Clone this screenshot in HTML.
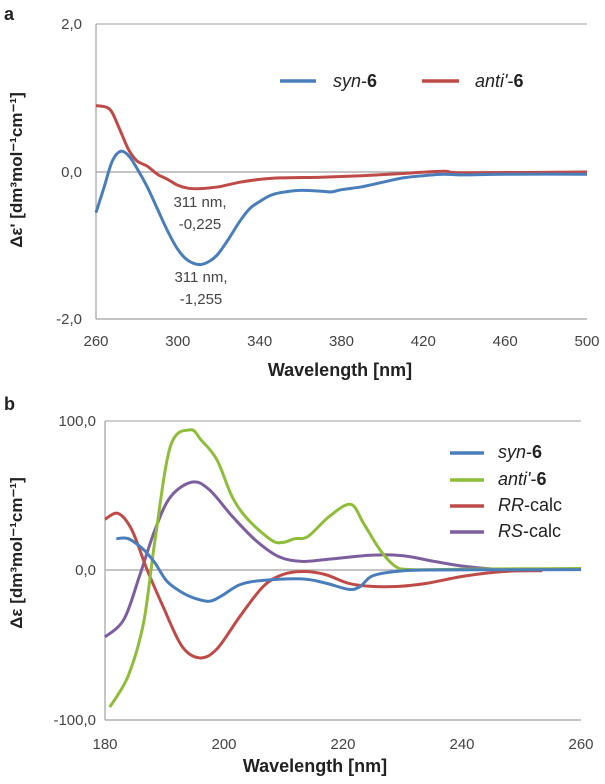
<!DOCTYPE html>
<html><head><meta charset="utf-8"><style>
html,body{margin:0;padding:0;background:#fff}
svg{display:block}
text{font-family:"Liberation Sans",Arial,sans-serif;fill:#222}
.t{fill:#444}
</style></head><body>
<svg id="s" width="605" height="784" viewBox="0 0 605 784" xmlns="http://www.w3.org/2000/svg">
<!-- Panel a -->
<text x="4" y="20" font-size="18" font-weight="bold">a</text>
<line x1="96" y1="24" x2="587" y2="24" stroke="#b0b0b0" stroke-width="1.2"/>
<line x1="96" y1="172" x2="587" y2="172" stroke="#a0a0a0" stroke-width="1.2"/>
<line x1="96" y1="24" x2="96" y2="319" stroke="#a0a0a0" stroke-width="1.2"/>
<line x1="96" y1="319" x2="587" y2="319" stroke="#a0a0a0" stroke-width="1.2"/>
<g font-size="15" text-anchor="end" class="t">
<text class="t" x="82" y="29">2,0</text><text class="t" x="82" y="177">0,0</text><text class="t" x="82" y="324">-2,0</text>
</g>
<g font-size="15" text-anchor="middle">
<text class="t" x="96" y="346">260</text><text class="t" x="177.8" y="346">300</text><text class="t" x="259.7" y="346">340</text><text class="t" x="341.5" y="346">380</text><text class="t" x="423.3" y="346">420</text><text class="t" x="505.2" y="346">460</text><text class="t" x="587" y="346">500</text>
</g>
<text x="340" y="376" font-size="18" font-weight="bold" text-anchor="middle">Wavelength [nm]</text>
<text transform="translate(22,170) rotate(-90)" font-size="17" font-weight="bold" text-anchor="middle">Δε' [dm³mol⁻¹cm⁻¹]</text>
<line x1="280" y1="81" x2="316" y2="81" stroke="#4a7ebb" stroke-width="3.5"/>
<text x="333" y="87" font-size="18"><tspan font-style="italic">syn</tspan>-<tspan font-weight="bold">6</tspan></text>
<line x1="422" y1="81" x2="459" y2="81" stroke="#be4b48" stroke-width="3.5"/>
<text x="475" y="87" font-size="18"><tspan font-style="italic">anti'</tspan>-<tspan font-weight="bold">6</tspan></text>
<g font-size="15" text-anchor="middle">
<text class="t" x="200" y="207">311 nm,</text><text class="t" x="200" y="229">-0,225</text>
<text class="t" x="201" y="282">311 nm,</text><text class="t" x="201" y="304">-1,255</text>
</g>
<path id="a1" fill="none" stroke="#be4b48" stroke-width="3"/>
<path id="a2" fill="none" stroke="#4a7ebb" stroke-width="3"/>

<!-- Panel b -->
<text x="4" y="410" font-size="18" font-weight="bold">b</text>
<line x1="105" y1="421" x2="581" y2="421" stroke="#b0b0b0" stroke-width="1.2"/>
<line x1="105" y1="570" x2="581" y2="570" stroke="#a0a0a0" stroke-width="1.2"/>
<line x1="105" y1="421" x2="105" y2="720" stroke="#a0a0a0" stroke-width="1.2"/>
<line x1="105" y1="720" x2="581" y2="720" stroke="#a0a0a0" stroke-width="1.2"/>
<g font-size="15" text-anchor="end">
<text class="t" x="96" y="426">100,0</text><text class="t" x="96" y="575">0,0</text><text class="t" x="96" y="725">-100,0</text>
</g>
<g font-size="15" text-anchor="middle">
<text class="t" x="105" y="749">180</text><text class="t" x="224" y="749">200</text><text class="t" x="343" y="749">220</text><text class="t" x="462" y="749">240</text><text class="t" x="581" y="749">260</text>
</g>
<text x="315" y="772" font-size="18" font-weight="bold" text-anchor="middle">Wavelength [nm]</text>
<text transform="translate(22,553) rotate(-90)" font-size="17" font-weight="bold" text-anchor="middle">Δε [dm³mol⁻¹cm⁻¹]</text>
<g font-size="18">
<line x1="450" y1="453" x2="484" y2="453" stroke="#4a7ebb" stroke-width="3.5"/>
<text x="498" y="458"><tspan font-style="italic">syn</tspan>-<tspan font-weight="bold">6</tspan></text>
<line x1="450" y1="480" x2="484" y2="480" stroke="#8fbd3a" stroke-width="3.5"/>
<text x="498" y="485"><tspan font-style="italic">anti'</tspan>-<tspan font-weight="bold">6</tspan></text>
<line x1="450" y1="506" x2="484" y2="506" stroke="#be4b48" stroke-width="3.5"/>
<text x="498" y="511"><tspan font-style="italic">RR</tspan>-calc</text>
<line x1="450" y1="532" x2="484" y2="532" stroke="#7d5fa0" stroke-width="3.5"/>
<text x="498" y="537"><tspan font-style="italic">RS</tspan>-calc</text>
</g>
<path id="b4" fill="none" stroke="#7d5fa0" stroke-width="3"/>
<path id="b3" fill="none" stroke="#be4b48" stroke-width="3"/>
<path id="b2" fill="none" stroke="#8fbd3a" stroke-width="3"/>
<path id="b1" fill="none" stroke="#4a7ebb" stroke-width="3"/>
</svg>
<script>
function path(pts,fx,fy){
  var p=pts.map(function(d){return [fx(d[0]),fy(d[1])];});
  var s="M"+p[0][0].toFixed(1)+" "+p[0][1].toFixed(1);
  for(var i=0;i<p.length-1;i++){
    var p0=p[i-1]||p[i],p1=p[i],p2=p[i+1],p3=p[i+2]||p2;
    var c1x=p1[0]+(p2[0]-p0[0])/6,c1y=p1[1]+(p2[1]-p0[1])/6;
    var c2x=p2[0]-(p3[0]-p1[0])/6,c2y=p2[1]-(p3[1]-p1[1])/6;
    s+=" C"+c1x.toFixed(1)+" "+c1y.toFixed(1)+" "+c2x.toFixed(1)+" "+c2y.toFixed(1)+" "+p2[0].toFixed(1)+" "+p2[1].toFixed(1);
  }
  return s;
}
var ax=function(n){return 96+(n-260)*2.046;}, ay=function(v){return 172-v*73.75;};
var bx=function(n){return 105+(n-180)*5.95;}, by=function(v){return 570-v*1.49;};
var syn=[[260,-0.55],[264,-0.2],[268,0.15],[272,0.28],[276,0.22],[280,0.05],[285,-0.2],[290,-0.5],[295,-0.8],[300,-1.05],[305,-1.2],[311,-1.255],[316,-1.2],[320,-1.1],[325,-0.9],[330,-0.68],[335,-0.5],[340,-0.4],[345,-0.32],[350,-0.28],[360,-0.25],[370,-0.26],[375,-0.27],[380,-0.24],[390,-0.2],[400,-0.14],[410,-0.08],[420,-0.05],[430,-0.03],[440,-0.04],[460,-0.03],[500,-0.03]];
var anti=[[260,0.9],[265,0.88],[268,0.8],[272,0.55],[276,0.3],[280,0.15],[285,0.08],[290,-0.03],[295,-0.1],[300,-0.18],[305,-0.22],[311,-0.225],[320,-0.2],[330,-0.14],[340,-0.1],[350,-0.08],[370,-0.07],[390,-0.05],[410,-0.02],[430,0.01],[440,-0.01],[500,0.0]];
document.getElementById('a1').setAttribute('d',path(anti,ax,ay));
document.getElementById('a2').setAttribute('d',path(syn,ax,ay));
var g=[[180.8,-92],[183.9,-71],[186.5,-35],[188.4,20],[191,83],[194.3,94],[196.2,87],[198.8,74],[201.4,49],[204,34],[208,20],[209.9,18.5],[211.9,21],[214.1,22.5],[217.7,36],[221.3,44],[223.5,31],[226.2,13.6],[228.8,2.4],[231.4,0.3],[240,0.5],[250,0.8],[260,1]];
var pu=[[180,-45],[183.2,-33],[185.8,-4],[188.4,27],[191,49],[194.6,59],[197.5,54],[201.4,36],[205.3,20],[209.2,9],[213.1,5.8],[217.7,7.3],[224.9,10],[230.1,9.6],[235.3,5.8],[240.5,2.4],[246.4,0.3],[251,0]];
var r=[[180,34],[182.2,38],[184.5,27],[187.1,0],[189.7,-24],[192.9,-51],[195.9,-59],[198.8,-53],[202.7,-31],[206.6,-11],[209.9,-3],[213.4,-1],[217,-3],[221,-9],[224.9,-11],[229.4,-11],[234,-9],[240.5,-4],[247,-1],[253.5,-0.5]];
var bl=[[181.9,21],[183.9,21],[186.5,13.6],[188.4,4.7],[190.4,-7.5],[192.9,-15],[194.9,-18.7],[197.5,-21],[199.5,-17.6],[202.7,-9.8],[206.6,-7],[213.1,-6],[217,-8.7],[221,-13],[222.9,-11],[224.9,-4],[228.8,-1],[234,0],[250,0.2],[260,0.3]];
document.getElementById('b1').setAttribute('d',path(bl,bx,by));
document.getElementById('b2').setAttribute('d',path(g,bx,by));
document.getElementById('b3').setAttribute('d',path(r,bx,by));
document.getElementById('b4').setAttribute('d',path(pu,bx,by));
</script>
</body></html>
